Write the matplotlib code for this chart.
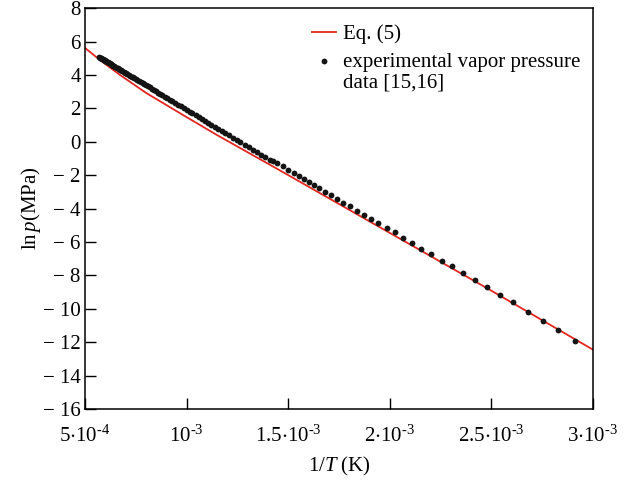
import matplotlib
matplotlib.use("Agg")
import matplotlib.pyplot as plt
import numpy as np
from matplotlib.legend_handler import HandlerLine2D

plt.rcParams['font.family'] = ['Liberation Serif', 'DejaVu Serif']
plt.rcParams['mathtext.fontset'] = 'custom'
plt.rcParams['mathtext.rm'] = 'Liberation Serif'
plt.rcParams['mathtext.it'] = 'Liberation Serif:italic'

# Eq. (5) curve: x in units of 1e-4 (1/T), y = ln p
eq_x = [5.0, 5.75, 6.7, 8.0, 9.8, 11.5, 14.6, 19.7, 24.9, 30.0]
eq_y = [5.62, 4.88, 4.02, 2.93, 1.62, 0.40, -1.72, -5.25, -8.85, -12.45]

# experimental vapor pressure data: x in units of 1e-4
exp_x = [5.70, 5.73, 5.77, 5.80, 5.84, 5.88, 5.92, 5.96, 6.00, 6.04, 6.08, 6.13,
         6.17, 6.21, 6.26, 6.31, 6.35, 6.40, 6.45, 6.50, 6.56, 6.61, 6.67, 6.72,
         6.78, 6.84, 6.90, 6.96, 7.02, 7.09, 7.15, 7.22, 7.29, 7.36, 7.43, 7.51,
         7.58, 7.66, 7.74, 7.83, 7.91, 8.00, 8.09, 8.18, 8.28, 8.38, 8.48, 8.59,
         8.70, 8.81, 8.93, 9.05, 9.17, 9.30, 9.43, 9.57, 9.71, 9.86,
         10.01, 10.15, 10.29, 10.44, 10.59, 10.74, 10.90, 11.06, 11.22, 11.39,
         11.56, 11.73, 11.91, 12.09, 12.27, 12.46, 12.65, 12.85, 13.05, 13.25,
         13.46, 13.67, 13.88, 14.10,
         14.267, 14.464, 14.730, 15.015, 15.285, 15.531, 15.778, 16.024, 16.285,
         16.531, 16.811, 17.092, 17.387, 17.697, 18.041, 18.386, 18.730, 19.075,
         19.419, 19.848, 20.256, 20.674, 21.102, 21.560, 22.052, 22.554, 23.046,
         23.612, 24.178, 24.769, 25.423, 26.078, 26.801, 27.549, 28.278, 29.114]
exp_y = [5.06, 5.04, 5.01, 4.99, 4.96, 4.93, 4.90, 4.87, 4.84, 4.81, 4.78, 4.75,
         4.72, 4.69, 4.65, 4.62, 4.59, 4.55, 4.51, 4.48, 4.43, 4.40, 4.35, 4.32,
         4.27, 4.23, 4.18, 4.14, 4.10, 4.04, 4.00, 3.95, 3.90, 3.85, 3.80, 3.74,
         3.69, 3.63, 3.57, 3.50, 3.44, 3.38, 3.31, 3.25, 3.17, 3.10, 3.02, 2.94,
         2.86, 2.78, 2.70, 2.61, 2.52, 2.42, 2.33, 2.22, 2.12, 2.01,
         1.90, 1.80, 1.70, 1.59, 1.48, 1.37, 1.25, 1.13, 1.02, 0.89,
         0.77, 0.64, 0.51, 0.38, 0.25, 0.11, -0.03, -0.18, -0.33, -0.47,
         -0.63, -0.78, -0.93, -1.10,
         -1.18, -1.30, -1.44, -1.69, -1.90, -2.06, -2.22, -2.40, -2.58,
         -2.76, -2.98, -3.16, -3.40, -3.64, -3.86, -4.14, -4.36, -4.64,
         -4.87, -5.15, -5.42, -5.75, -6.06, -6.40, -6.74, -7.14, -7.44,
         -7.86, -8.25, -8.69, -9.15, -9.61, -10.20, -10.74, -11.28, -11.92]

xticks = [5e-4, 1e-3, 1.5e-3, 2e-3, 2.5e-3, 3e-3]
xtick_labels = [r'$\mathregular{5{\cdot}10^{\text{-}4}}$', r'$\mathregular{10^{\text{-}3}}$',
                r'$\mathregular{1.5{\cdot}10^{\text{-}3}}$', r'$\mathregular{2{\cdot}10^{\text{-}3}}$',
                r'$\mathregular{2.5{\cdot}10^{\text{-}3}}$', r'$\mathregular{3{\cdot}10^{\text{-}3}}$']
yticks = list(range(8, -17, -2))
ytick_labels = [str(v) if v >= 0 else '\u2212 ' + str(-v) for v in yticks]

FS = 15

fig = plt.figure(figsize=(6.41, 4.8), dpi=100)
ax = fig.add_axes([0.1326, 0.148, 0.7925, 0.835])

ax.plot(np.array(eq_x) * 1e-4, eq_y, color='#e3261f', lw=1.3, label='Eq. (5)', zorder=2)
ax.plot(np.array(exp_x) * 1e-4, exp_y, 'o', color='#141414', ms=4.2, mew=0,
        label='experimental vapor pressure\ndata [15,16]', zorder=3)

ax.set_xlim(5e-4, 3e-3)
ax.set_ylim(-16, 8)
ax.set_xticks(xticks)
ax.set_xticklabels(xtick_labels)
ax.set_yticks(yticks)
ax.set_yticklabels(ytick_labels)
ax.tick_params(direction='in', length=8, width=1, labelsize=FS, top=False, right=False)
ax.tick_params(axis='x', pad=12)
ax.tick_params(axis='y', pad=3)
for s in ax.spines.values():
    s.set_linewidth(1.1)

ax.set_xlabel(r'$\mathregular{1/}\mathit{T}\mathregular{\ (K)}$', fontsize=FS, labelpad=6)
ax.set_ylabel(r'$\mathregular{ln\,}\mathit{p}\mathregular{(MPa)}$', fontsize=FS, labelpad=0)


class TopLineHandler(HandlerLine2D):
    def create_artists(self, legend, orig_handle, xdescent, ydescent, width, height,
                       fontsize, trans):
        arts = super().create_artists(legend, orig_handle, xdescent, ydescent, width,
                                      height, fontsize, trans)
        for a in arts:
            yd = np.asarray(a.get_ydata(), dtype=float)
            a.set_ydata(yd + 0.55 * fontsize)
        return arts


handles, labels = ax.get_legend_handles_labels()
leg = ax.legend(handles, labels, loc='upper left', bbox_to_anchor=(0.447, 0.96),
                frameon=False, fontsize=FS, handlelength=1.15, handletextpad=0.35,
                labelspacing=0.42, borderaxespad=0.0, borderpad=0.0,
                handler_map={handles[1]: TopLineHandler()})
for t in leg.get_texts():
    t.set_linespacing(1.1)

fig.savefig('out.png', dpi=100)
